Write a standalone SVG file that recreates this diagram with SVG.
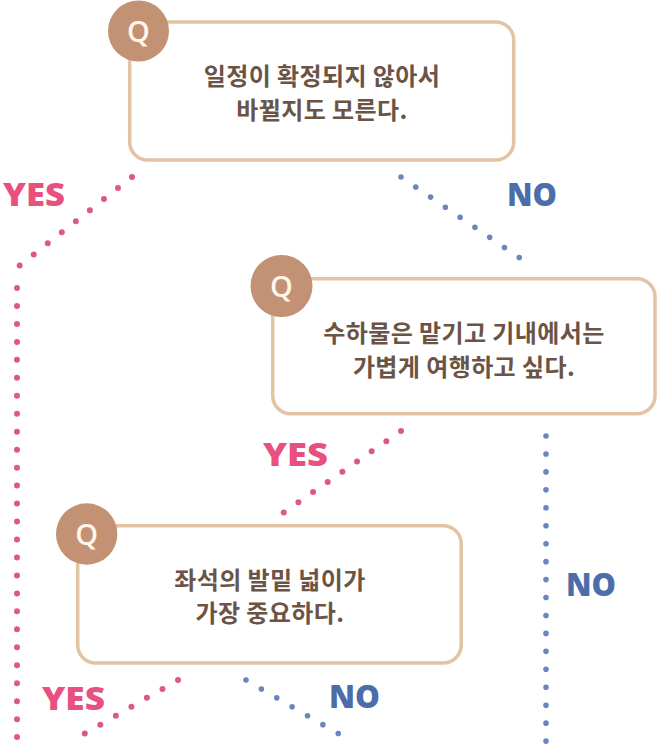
<svg xmlns="http://www.w3.org/2000/svg" width="658" height="745" viewBox="0 0 658 745">
<style>
.box{fill:#fff;stroke:#e2c3a3;stroke-width:3.5}
.qc{fill:#c39274}
.ql{fill:#fff6e8;font-family:"Open Sans","Liberation Sans",sans-serif;font-weight:600;font-size:29px;text-anchor:middle}
.tx{fill:#6b5445;font-family:"Noto Sans CJK KR","Noto Sans",sans-serif;font-weight:700;font-size:24px;letter-spacing:0.4px;text-anchor:middle}
.dy{fill:none;stroke:#de5a7d;stroke-width:6;stroke-linecap:round;stroke-dasharray:0 1}
.dn{fill:none;stroke:#6a86bb;stroke-width:5.6;stroke-linecap:round;stroke-dasharray:0 1}
.ly{fill:#e8507f;font-family:"Open Sans","Liberation Sans",sans-serif;font-weight:800;font-size:31px}
.ln{fill:#4b6ea8;font-family:"Open Sans","Liberation Sans",sans-serif;font-weight:800;font-size:31px}
</style>
<g id="connectors">
<path class="dy" d="M132,177 L19,266" pathLength="8.05"/>
<path class="dy" d="M17,288 L17,738" pathLength="25.05"/>
<path class="dn" d="M401,177 L520,258" pathLength="8.05"/>
<path class="dn" d="M546,436 L546,742" pathLength="17.05"/>
<path class="dy" d="M401,431 L283,513" pathLength="8.05"/>
<path class="dy" d="M178,680 L84,734" pathLength="6.05"/>
<path class="dn" d="M246,680 L339,734" pathLength="6.05"/>
<text class="ly" x="3" y="206" textLength="62" lengthAdjust="spacingAndGlyphs">YES</text>
<text class="ln" x="507" y="206" textLength="50" lengthAdjust="spacingAndGlyphs">NO</text>
<text class="ly" x="263" y="466" textLength="65" lengthAdjust="spacingAndGlyphs">YES</text>
<text class="ln" x="566" y="596" textLength="50" lengthAdjust="spacingAndGlyphs">NO</text>
<text class="ly" x="42" y="710" textLength="63" lengthAdjust="spacingAndGlyphs">YES</text>
<text class="ln" x="329" y="708" textLength="51" lengthAdjust="spacingAndGlyphs">NO</text>
</g>
<g id="q1">
<rect class="box" x="129.7" y="22" width="384" height="138" rx="18"/>
<circle class="qc" cx="138.5" cy="31" r="30.5"/>
<text class="ql" x="138.5" y="41.5">Q</text>
<text class="tx" x="322" y="84.5">일정이 확정되지 않아서</text>
<text class="tx" x="322" y="118.5">바뀔지도 모른다.</text>
</g>
<g id="q2">
<rect class="box" x="272.7" y="278.7" width="382.3" height="135" rx="18"/>
<circle class="qc" cx="281.5" cy="286" r="31"/>
<text class="ql" x="281.5" y="296.5">Q</text>
<text class="tx" x="464" y="341.5">수하물은 맡기고 기내에서는</text>
<text class="tx" x="464" y="375.5">가볍게 여행하고 싶다.</text>
</g>
<g id="q3">
<rect class="box" x="77.7" y="525.7" width="383.5" height="137.3" rx="18"/>
<circle class="qc" cx="86.7" cy="534" r="30.7"/>
<text class="ql" x="86.7" y="544.5">Q</text>
<text class="tx" x="270" y="588.5">좌석의 발밑 넓이가</text>
<text class="tx" x="270" y="622">가장 중요하다.</text>
</g>
</svg>
